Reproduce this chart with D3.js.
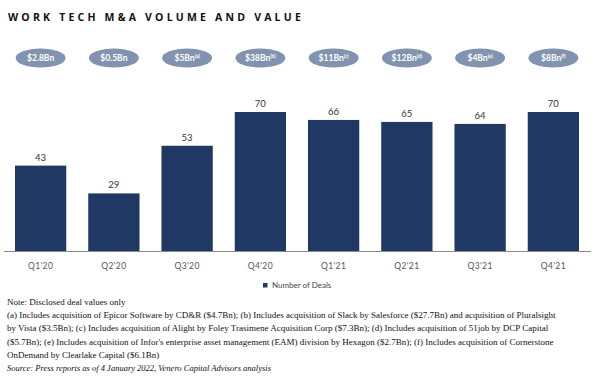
<!DOCTYPE html>
<html>
<head>
<meta charset="utf-8">
<script src="https://cdn.jsdelivr.net/npm/d3@7"></script>
<style>
	body { margin: 0; background: #fff; }
	svg { display: block; }
</style>
</head>
<body>
<div id="content"></div>
<script>
let quarters = ["Q1'20", "Q2'20", "Q3'20", "Q4'20", "Q1'21", "Q2'21", "Q3'21", "Q4'21"]
let deals = [43, 29, 53, 70, 66, 65, 64, 70]
let deal_values = ['$2.8Bn', '$0.5Bn', '$5Bn', '$38Bn', '$11Bn', '$12Bn', '$4Bn', '$8Bn']
let value_notes = ['', '', '(a)', '(b)', '(c)', '(d)', '(e)', '(f)']

let notes = [
	'Note: Disclosed deal values only',
	'(a) Includes acquisition of Epicor Software by CD&R ($4.7Bn); (b) Includes acquisition of Slack by Salesforce ($27.7Bn) and acquisition of Pluralsight',
	'by Vista ($3.5Bn); (c) Includes acquisition of Alight  by Foley Trasimene Acquisition Corp ($7.3Bn); (d) Includes acquisition of 51job by DCP Capital',
	'($5.7Bn); (e) Includes acquisition of Infor\'s enterprise asset management (EAM) division by Hexagon ($2.7Bn); (f) Includes acquisition of Cornerstone',
	'OnDemand by Clearlake Capital  ($6.1Bn)',
]
let source_note = 'Source: Press reports as of 4 January 2022, Venero Capital Advisors analysis'

let WIDTH = 602
let HEIGHT = 378
let BAR_COLOR = '#1f3864'
let PILL_COLOR = '#8193ae'
let SANS = 'Lato, "Open Sans", sans-serif'
let SERIF = '"Liberation Serif", "DejaVu Serif", serif'

let svg = d3.select('#content').append('svg')
	.attr('width', WIDTH)
	.attr('height', HEIGHT)

let x = d3.scaleBand()
	.domain(quarters)
	.range([4, 590])
	.paddingInner(0.3)
	.paddingOuter(0.15)

let y = d3.scaleLinear()
	.domain([0, 70])
	.range([251, 112])

// title
svg.append('text')
	.attr('x', 8)
	.attr('y', 21)
	.style('font-family', '"Open Sans", sans-serif')
	.style('font-weight', 'bold')
	.style('font-size', '10.5px')
	.style('letter-spacing', '3.2px')
	.style('fill', '#111')
	.text('WORK TECH M&A VOLUME AND VALUE')

// deal value pills
let pill = svg.selectAll('g.pill')
	.data(quarters)
	.enter().append('g')
		.attr('class', 'pill')
		.attr('transform', (d) => { return `translate(${x(d) + x.bandwidth() / 2}, 58)` })

pill.append('ellipse')
	.attr('rx', 25)
	.attr('ry', 9.5)
	.style('fill', PILL_COLOR)

let pill_text = pill.append('text')
	.attr('y', 3)
	.attr('text-anchor', 'middle')
	.style('font-family', SANS)
	.style('font-size', '8.5px')
	.style('font-weight', 'bold')
	.style('fill', '#fff')

pill_text.append('tspan')
	.text((d, i) => { return deal_values[i] })

pill_text.append('tspan')
	.attr('dy', -3)
	.style('font-size', '5px')
	.text((d, i) => { return value_notes[i] })

// bars
svg.selectAll('rect.bar')
	.data(deals)
	.enter().append('rect')
		.attr('class', 'bar')
		.attr('x', (d, i) => { return x(quarters[i]) })
		.attr('y', (d) => { return y(d) })
		.attr('width', x.bandwidth())
		.attr('height', (d) => { return y(0) - y(d) })
		.style('fill', BAR_COLOR)

svg.selectAll('text.value')
	.data(deals)
	.enter().append('text')
		.attr('class', 'value')
		.attr('x', (d, i) => { return x(quarters[i]) + x.bandwidth() / 2 })
		.attr('y', (d) => { return y(d) - 5 })
		.attr('text-anchor', 'middle')
		.style('font-family', SANS)
		.style('font-size', '9.5px')
		.style('fill', '#333')
		.text((d) => { return d })

// axis
let axis = svg.append('g')
	.attr('transform', `translate(0, ${y(0)})`)
	.call(d3.axisBottom(x).tickSize(0).tickPadding(12))

axis.select('.domain')
	.attr('d', 'M4,0.5H591')
	.style('stroke', '#8a8a8a')

axis.selectAll('text')
	.style('font-family', SANS)
	.style('font-size', '8.5px')
	.style('letter-spacing', '0.4px')
	.style('fill', '#555')

// legend
let legend = svg.append('g')
	.attr('transform', 'translate(263, 283)')

legend.append('rect')
	.attr('width', 4.5)
	.attr('height', 4.5)
	.style('fill', BAR_COLOR)

legend.append('text')
	.attr('x', 9)
	.attr('y', 5)
	.style('font-family', SANS)
	.style('font-size', '8px')
	.style('fill', '#444')
	.text('Number of Deals')

// notes
svg.selectAll('text.note')
	.data(notes)
	.enter().append('text')
		.attr('class', 'note')
		.attr('x', 7)
		.attr('y', (d, i) => { return 305 + i * 13.2 })
		.style('font-family', SERIF)
		.style('font-size', '9px')
		.style('fill', '#111')
		.text((d) => { return d })

svg.append('text')
	.attr('x', 7)
	.attr('y', 305 + notes.length * 13.2)
	.style('font-family', SERIF)
	.style('font-size', '8.5px')
	.style('font-style', 'italic')
	.style('fill', '#111')
	.text(source_note)
</script>
</body>
</html>
